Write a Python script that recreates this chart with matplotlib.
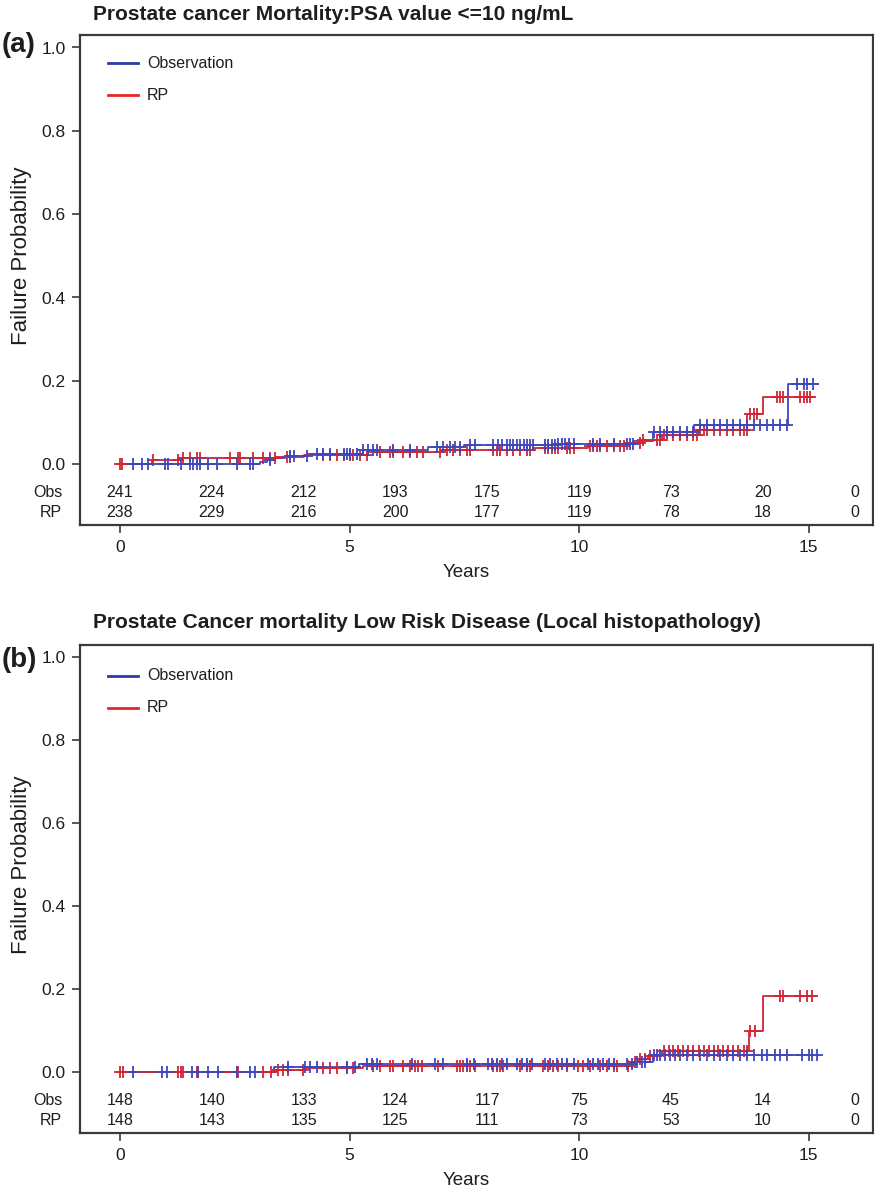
import numpy as np
import matplotlib
matplotlib.use("Agg")
import matplotlib.pyplot as plt
from matplotlib.transforms import blended_transform_factory

plt.rcParams['font.family'] = ['Liberation Sans', 'DejaVu Sans']

# ---------------- Panel (a): PSA <= 10 ng/mL ----------------
a_obs_event_t = [3.05, 3.2, 3.35, 3.6, 4.1, 5.3, 6.7, 7.5, 9.5, 11.2, 11.6, 12.5, 14.55]
a_obs_event_p = [0.005, 0.010, 0.015, 0.020, 0.024, 0.033, 0.040, 0.045, 0.049, 0.055, 0.077, 0.094, 0.192]
a_obs_end = 15.2
a_obs_censor = [0.29, 0.47, 0.62, 0.98, 1.05, 1.34, 1.53, 1.6, 1.67, 1.74, 1.92, 2.11, 2.54,
                2.83, 2.9, 3.27, 3.7, 3.78, 4.07, 4.29, 4.43, 4.58, 4.87, 4.94, 5.01, 5.16,
                5.3, 5.41, 5.52, 5.59, 5.95, 6.32, 6.9, 7.04, 7.19, 7.3, 7.41, 7.63, 7.73,
                8.13, 8.24, 8.32, 8.42, 8.5, 8.57, 8.64, 8.71, 8.79, 8.86, 8.93, 9.0, 9.26,
                9.33, 9.41, 9.48, 9.55, 9.62, 9.69, 9.77, 9.88, 10.31, 10.46, 10.75, 11.04,
                11.11, 11.18, 11.62, 11.76, 11.91, 12.05, 12.2, 12.35, 12.49, 12.64, 12.78,
                12.93, 13.07, 13.22, 13.36, 13.51, 13.65, 13.8, 13.94, 14.09, 14.23, 14.38,
                14.52, 14.74, 14.89, 14.96, 15.1]

a_rp_event_t = [0.7, 1.3, 3.4, 4.0, 5.4, 7.0, 9.0, 10.2, 11.0, 11.4, 11.8, 12.6, 13.66, 14.0]
a_rp_event_p = [0.009, 0.014, 0.018, 0.022, 0.029, 0.034, 0.038, 0.043, 0.050, 0.058,
                0.070, 0.083, 0.120, 0.161]
a_rp_end = 15.1
a_rp_censor = [0.0, 0.04, 0.73, 1.27, 1.38, 1.53, 1.67, 1.74, 2.4, 2.58, 2.61, 2.9, 3.12,
               3.27, 3.38, 3.63, 3.7, 4.43, 4.58, 4.72, 4.87, 5.01, 5.08, 5.23, 5.37, 5.66,
               5.88, 5.95, 6.17, 6.32, 6.46, 6.61, 6.97, 7.12, 7.26, 7.41, 7.55, 7.63, 8.13,
               8.21, 8.28, 8.42, 8.57, 8.71, 8.86, 8.93, 9.26, 9.33, 9.41, 9.48, 9.55, 9.73,
               9.8, 9.88, 10.24, 10.31, 10.39, 10.46, 10.6, 10.75, 10.89, 10.97, 11.33, 11.4,
               11.69, 11.76, 11.84, 11.91, 12.05, 12.2, 12.35, 12.49, 12.56, 12.64, 12.71,
               12.78, 12.93, 13.07, 13.22, 13.36, 13.51, 13.58, 13.65, 13.73, 13.8, 13.87,
               14.3, 14.38, 14.45, 14.81, 14.89, 14.96, 15.03]

a_risk_obs = [241, 224, 212, 193, 175, 119, 73, 20, 0]
a_risk_rp = [238, 229, 216, 200, 177, 119, 78, 18, 0]

# ---------------- Panel (b): low risk disease ----------------
b_obs_event_t = [3.35, 5.2, 11.2, 11.6]
b_obs_event_p = [0.014, 0.020, 0.026, 0.041]
b_obs_end = 15.2
b_obs_censor = [0.29, 0.91, 1.02, 1.56, 1.71, 1.92, 2.14, 2.54, 2.83, 2.94, 3.67, 4.03, 4.14,
                4.29, 4.94, 5.12, 5.37, 5.48, 5.59, 6.35, 6.86, 7.04, 7.55, 7.7, 8.02, 8.1,
                8.21, 8.32, 8.42, 8.64, 8.75, 8.86, 8.97, 9.26, 9.37, 9.51, 9.62, 9.73, 9.88,
                10.2, 10.31, 10.42, 10.53, 10.64, 10.75, 11.04, 11.15, 11.26, 11.37, 11.44,
                11.62, 11.69, 11.76, 11.87, 11.98, 12.09, 12.2, 12.35, 12.49, 12.64, 12.78,
                12.93, 13.07, 13.22, 13.36, 13.51, 13.65, 13.8, 13.98, 14.09, 14.27, 14.38,
                14.52, 14.85, 15.0, 15.07, 15.18]

b_rp_event_t = [3.4, 4.0, 5.3, 11.1, 11.3, 11.5, 11.8, 13.7, 14.0]
b_rp_event_p = [0.005, 0.010, 0.015, 0.025, 0.032, 0.040, 0.052, 0.100, 0.184]
b_rp_end = 15.1
b_rp_censor = [0.0, 0.07, 1.27, 1.34, 1.38, 1.67, 1.71, 2.54, 2.58, 3.12, 3.3, 3.45, 3.56,
               3.67, 3.99, 4.43, 4.58, 4.72, 4.94, 5.08, 5.52, 5.66, 5.88, 5.95, 6.17, 6.32,
               6.43, 6.5, 6.57, 6.93, 7.34, 7.41, 7.55, 7.48, 7.63, 7.73, 8.13, 8.21, 8.28,
               8.35, 8.71, 8.86, 8.93, 9.22, 9.33, 9.44, 9.55, 9.73, 9.98, 10.09, 10.24,
               10.46, 10.6, 10.75, 10.82, 11.07, 11.22, 11.33, 11.44, 11.55, 11.84, 11.95,
               12.05, 12.16, 12.27, 12.38, 12.49, 12.6, 12.71, 12.82, 12.93, 13.03, 13.14,
               13.25, 13.36, 13.47, 13.58, 13.65, 13.73, 13.83, 14.38, 14.45, 14.81, 14.96,
               15.07]

b_risk_obs = [148, 140, 133, 124, 117, 75, 45, 14, 0]
b_risk_rp = [148, 143, 135, 125, 111, 73, 53, 10, 0]

risk_times = [0, 2, 4, 6, 8, 10, 12, 14, 16]
x_ticks = [0, 5, 10, 15]
y_ticks = [0.0, 0.2, 0.4, 0.6, 0.8, 1.0]

titles = ["Prostate cancer Mortality:PSA value <=10 ng/mL",
          "Prostate Cancer mortality Low Risk Disease (Local histopathology)"]
panel_tags = ["(a)", "(b)"]
group_names = ["Observation", "RP"]

BLUE = "#3f47bd"
RED = "#cf2535"
LEG_BLUE = "#2e3aae"
LEG_RED = "#e8262b"
TXT = "#1e1e1e"
SPINE = "#3a3a3a"

W, H = 874, 1194
fig = plt.figure(figsize=(W / 100, H / 100), dpi=100)


def step_curve(event_t, event_p, end):
    t = np.concatenate([[0.0], event_t, [end]])
    p = np.concatenate([[0.0], event_p, [event_p[-1]]])
    return t, p


def value_at(event_t, event_p, times):
    t = np.concatenate([[0.0], event_t])
    p = np.concatenate([[0.0], event_p])
    idx = np.searchsorted(t, times, side="right") - 1
    return p[np.clip(idx, 0, None)]


panels = [
    dict(box=(80, 35, 793, 490), obs=(a_obs_event_t, a_obs_event_p, a_obs_end, a_obs_censor),
         rp=(a_rp_event_t, a_rp_event_p, a_rp_end, a_rp_censor),
         risk=(a_risk_obs, a_risk_rp), title_y=15, tag_y=45, leg_y=(63, 95)),
    dict(box=(80, 645, 793, 488), obs=(b_obs_event_t, b_obs_event_p, b_obs_end, b_obs_censor),
         rp=(b_rp_event_t, b_rp_event_p, b_rp_end, b_rp_censor),
         risk=(b_risk_obs, b_risk_rp), title_y=622, tag_y=660, leg_y=(676, 708)),
]

for i, pn in enumerate(panels):
    left, top, w, h = pn["box"]
    ax = fig.add_axes([left / W, 1 - (top + h) / H, w / W, h / H])
    ax.set_xlim(-0.87, 16.4)
    ax.set_ylim(-0.146, 1.03)

    for (et, ep, end, cens), col in [(pn["obs"], BLUE), (pn["rp"], RED)]:
        t, p = step_curve(et, ep, end)
        ax.step(t, p, where="post", color=col, lw=1.3, zorder=3)
    for (et, ep, end, cens), col in [(pn["rp"], RED), (pn["obs"], BLUE)]:
        ct = np.array(cens)
        ax.plot(ct, value_at(et, ep, ct), ls="none", marker="+", ms=8.5, mew=1.3,
                color=col, zorder=4)

    # number-at-risk rows
    trans = blended_transform_factory(ax.transAxes, ax.transData)
    obs_risk, rp_risk = pn["risk"]
    ax.text(-0.040, -0.068, "Obs", transform=trans, ha="center", va="center",
            fontsize=11.5, color=TXT, clip_on=False)
    ax.text(-0.037, -0.117, "RP", transform=trans, ha="center", va="center",
            fontsize=11.5, color=TXT, clip_on=False)
    for tt, n1, n2 in zip(risk_times, obs_risk, rp_risk):
        ax.text(tt, -0.068, str(n1), ha="center", va="center", fontsize=11.5, color=TXT)
        ax.text(tt, -0.117, str(n2), ha="center", va="center", fontsize=11.5, color=TXT)

    # legend
    ly1 = (top + h - pn["leg_y"][0]) / h
    ly2 = (top + h - pn["leg_y"][1]) / h
    for ly, col, name in [(ly1, LEG_BLUE, group_names[0]), (ly2, LEG_RED, group_names[1])]:
        ax.plot([0.0353, 0.0732], [ly, ly], color=col, lw=2, transform=ax.transAxes)
        ax.text(0.0845, ly, name, transform=ax.transAxes, ha="left", va="center",
                fontsize=11.5, color=TXT)

    ax.set_xticks(x_ticks)
    ax.set_yticks(y_ticks)
    ax.set_yticklabels([f"{v:.1f}" for v in y_ticks])
    ax.tick_params(direction="out", length=5.5, width=1.2, color=SPINE, labelsize=12.5,
                   labelcolor=TXT)
    ax.tick_params(axis="x", pad=5)
    ax.tick_params(axis="y", pad=5)
    for s in ax.spines.values():
        s.set_color(SPINE)
        s.set_linewidth(1.6)
    ax.set_xlabel("Years", fontsize=13.5, color=TXT)
    ax.set_ylabel("Failure Probability", fontsize=16, color=TXT)
    ax.xaxis.set_label_coords(0.487, -0.080)
    ax.yaxis.set_label_coords(-0.061, 0.55)

    fig.text(93 / W, 1 - pn["title_y"] / H, titles[i], ha="left", va="center",
             fontsize=15, fontweight="bold", color=TXT)
    fig.text(2 / W, 1 - pn["tag_y"] / H, panel_tags[i], ha="left", va="center",
             fontsize=20, fontweight="bold", color=TXT)

fig.savefig("out.png", dpi=100, facecolor="white")
